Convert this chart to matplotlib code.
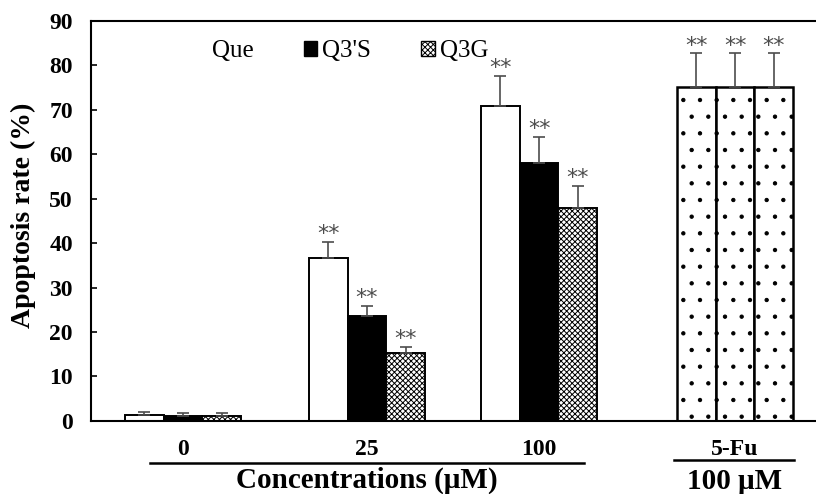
import numpy as np
import matplotlib
matplotlib.use('Agg')
import matplotlib.pyplot as plt
from matplotlib.patches import Patch

# data
groups = ['0', '25', '100', '5-Fu']
que = [1.3, 36.6, 70.8, 75.2]
que_err = [0.6, 3.7, 6.8, 7.5]
q3s = [1.2, 23.5, 58.1, 75.2]
q3s_err = [0.6, 2.4, 5.9, 7.5]
q3g = [1.1, 15.2, 48.0, 75.2]
q3g_err = [0.6, 1.5, 4.9, 7.5]
stars = ['', '**', '**', '**']

plt.rcParams['font.family'] = ['Liberation Serif', 'DejaVu Serif']
plt.rcParams['hatch.linewidth'] = 0.7

fig = plt.figure(figsize=(8.16, 4.94), dpi=100)
ax = fig.add_axes([0.1115, 0.148, 0.8885, 0.8095])

pos = np.array([0, 1, 1.935, 3])
w = 0.21
errkw = dict(ecolor='#4d4d4d', elinewidth=1.2, capsize=4.5, capthick=1.2)

series = [(que, que_err), (q3s, q3s_err), (q3g, q3g_err)]
for k, (vals, errs) in enumerate(series):
    xs = pos + (k - 1) * w
    for i in range(len(groups)):
        if i == 3:
            fc, hatch, lw = 'white', '.', 1.8
        elif k == 0:
            fc, hatch, lw = 'white', None, 1.4
        elif k == 1:
            fc, hatch, lw = 'black', None, 1.4
        else:
            fc, hatch, lw = 'white', 'xxxxxx', 1.4
        ax.bar(xs[i], vals[i], w, color=fc, edgecolor='black', hatch=hatch,
               linewidth=lw, yerr=[[0], [errs[i]]], error_kw=errkw, zorder=2)
        if stars[i]:
            ax.text(xs[i], vals[i] + errs[i] - 0.5, stars[i], ha='center', va='bottom',
                    fontsize=16, color='#4d4d4d', family='DejaVu Sans')

ax.set_xlim(-0.5, 3.44)
ax.set_ylim(0, 90)
ax.set_yticks(np.arange(0, 91, 10))
ax.tick_params(axis='y', direction='in', length=4, width=1.2, labelsize=17, pad=13)
for t in ax.get_yticklabels():
    t.set_fontweight('bold')
ax.set_xticks(pos)
ax.set_xticklabels(groups, fontsize=17, fontweight='bold')
ax.tick_params(axis='x', length=0, pad=13)
ax.spines['right'].set_visible(False)
for s in ['left', 'bottom', 'top']:
    ax.spines[s].set_linewidth(1.5)

ax.set_ylabel('Apoptosis rate (%)', fontsize=20, fontweight='bold')
ax.yaxis.set_label_coords(-0.076, 0.515)

# underlines and group captions below the axis
tr = ax.get_xaxis_transform()
ax.plot([-0.18, 2.18], [-0.105, -0.105], color='black', lw=1.8, transform=tr, clip_on=False)
ax.plot([2.67, 3.32], [-0.0975, -0.0975], color='black', lw=1.8, transform=tr, clip_on=False)
ax.text(1.0, -0.1675, 'Concentrations (\u03bcM)', transform=tr, ha='center', va='baseline',
        fontsize=21, fontweight='bold')
ax.text(3.0, -0.17, '100 \u03bcM', transform=tr, ha='center', va='baseline',
        fontsize=21, fontweight='bold')

handles = [Patch(facecolor='white', edgecolor='none'),
           Patch(facecolor='black', edgecolor='black'),
           Patch(facecolor='white', edgecolor='black', hatch='xxxxxx')]
ax.legend(handles, ['Que', "Q3'S", 'Q3G'], ncol=3, frameon=False, fontsize=18,
          loc='center left', bbox_to_anchor=(0.141, 0.925), borderpad=0,
          borderaxespad=0, handlelength=0.55, handleheight=0.55,
          handletextpad=0.2, columnspacing=2.0)

fig.savefig('out.png', dpi=100)
